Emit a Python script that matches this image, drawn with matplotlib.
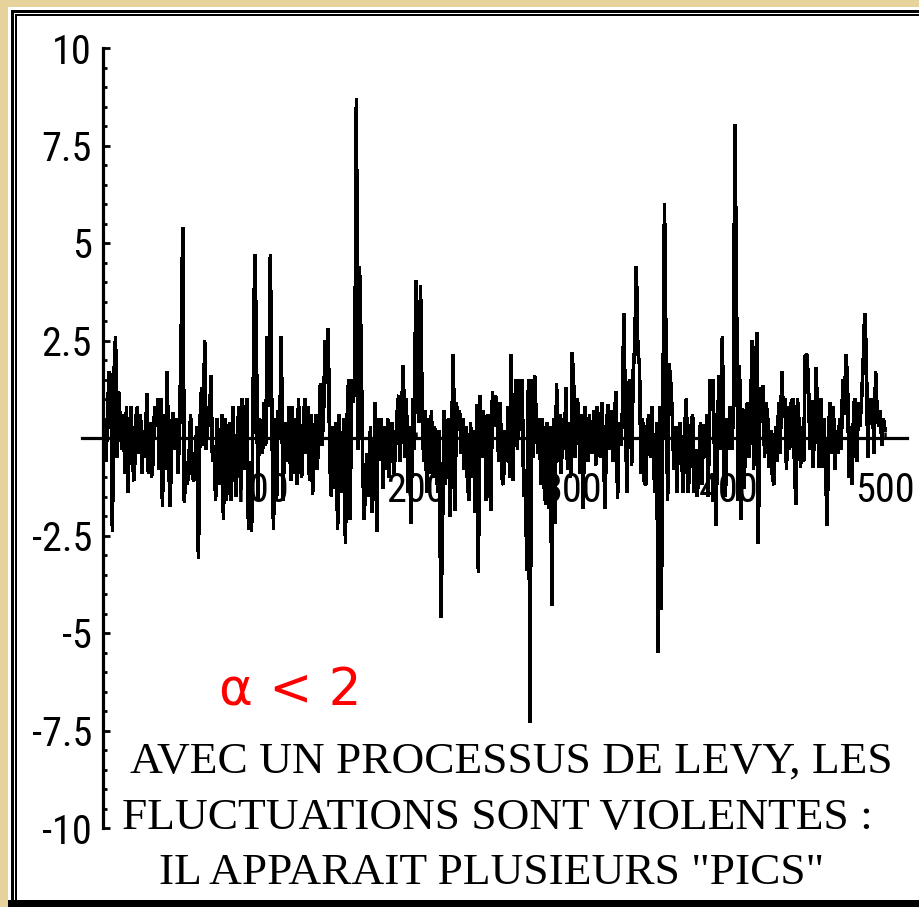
import matplotlib
matplotlib.use("Agg")
import matplotlib.pyplot as plt
from matplotlib import font_manager as fm
from matplotlib.patches import Rectangle
from matplotlib.ticker import FixedLocator, FixedFormatter, MultipleLocator

# ---------------- data ----------------
steps = list(range(1, 501))
levy_values = [
    0.3, -0.6, 0.8, 1.7, 1.5, -2.4, 1.6, 2.6, -0.5, 1.2, 0.4, -0.3, 0.6, -0.9, 0.8, -1.4, 0.3, 0.8, -0.7, -1.1,
    0.5, 0.8, -0.4, 0.6, -0.9, 0.2, -0.5, 1.15, -0.9, 0.4, -1.0, -0.6, 0.8, 0.3, 1.0, -0.8, 1.0, -1.75, 0.6, -0.8,
    1.7, -0.7, -1.75, 0.4, 0.65, -0.3, 0.5, -0.9, 0.3, 2.7, 5.4, -1.65, -0.6, -1.2, -0.5, 0.6, -0.9, -1.1, -0.4, 0.3,
    -3.1, 0.4, 1.3, -0.2, 2.5, -0.3, 0.8, 0.3, 1.6, -0.6, -0.2, -1.6, 0.5, -1.2, -0.4, 0.6, -2.1, 0.5, -1.6, 0.2,
    0.4, -1.6, 0.8, -0.5, -1.5, 0.3, 0.8, -1.4, 1.0, 0.5, -0.8, 1.0, -2.35, -0.6, -2.4, 1.2, 4.7, 2.8, -1.6, 0.5,
    0.3, -0.4, 0.9, -0.2, 2.6, 0.8, 4.7, 0.4, -2.35, 0.5, -1.6, 0.7, 0.2, 2.6, -1.6, -0.3, 0.4, -0.6, 0.8, -1.1,
    0.8, -0.9, 0.5, -1.2, 1.0, -0.6, -1.0, 0.3, 1.0, -0.4, 0.8, -1.1, 0.6, -1.45, -0.3, 0.6, -0.8, 0.2, 1.4, -0.2,
    0.6, 2.5, 1.4, 2.8, -0.6, -1.5, 0.3, -1.3, 0.4, -2.35, 0.6, -1.4, -0.5, 0.5, -2.7, 0.4, 1.5, -2.1, 1.5, 0.9,
    1.5, 8.7, -0.3, 4.4, 2.45, -0.6, -2.1, -0.9, -0.4, -1.5, 0.3, -1.9, -0.8, 0.9, -2.4, 0.5, -0.3, 0.5, -1.3, 0.3,
    -0.8, 0.5, -1.0, 0.2, 0.4, -0.9, -0.3, 0.6, 1.1, -0.6, 0.8, 1.85, -0.5, 1.0, -1.4, 0.3, -2.2, 1.0, -0.3, 4.05,
    1.0, 0.4, 3.9, 1.0, -0.6, 0.7, -1.4, 0.5, -0.9, 0.7, -1.0, 0.3, -0.5, -1.4, 0.2, -4.6, -2.6, 0.7, -1.2, 0.4,
    0.5, -2.0, 0.3, 2.15, -1.85, 0.9, 0.2, 0.7, -0.4, 0.5, -0.8, 0.3, -1.1, -1.6, 0.4, -1.0, 0.2, -1.9, 0.85, -3.45,
    1.1, -0.5, 0.7, 0.4, -1.6, 0.6, -0.9, -1.85, 1.2, 0.3, 1.1, 0.5, -0.6, 0.9, -1.0, -1.2, 0.2, -0.6, 0.8, -1.0,
    2.15, -1.1, 0.4, 1.5, -0.3, 1.5, 0.2, 1.5, -1.5, -0.8, -3.4, 1.5, -7.3, 1.5, -0.5, 1.6, 0.5, -0.4, 0.5, -1.2,
    0.5, -1.2, -1.7, 0.4, -1.8, 0.3, -4.3, 0.5, -2.2, 1.4, -0.6, 0.6, -0.9, 0.5, -0.3, 1.3, -0.8, 0.4, -1.0, 2.2,
    1.3, -0.5, 1.0, 0.8, -0.9, 0.6, -1.8, 0.8, 0.3, -0.6, 0.6, -0.4, 0.2, 0.7, -0.7, 0.8, 0.3, -0.5, 0.9, -0.3,
    -1.8, 0.4, 0.85, -0.3, 0.7, -0.6, 0.5, 1.2, -1.55, 0.4, -0.2, 0.5, 3.2, 0.6, -1.4, 1.4, 1.5, -0.7, 1.7, 2.35,
    4.4, 2.2, 1.9, -0.9, 0.5, -1.1, -1.2, 0.3, 0.6, -0.5, 0.8, -0.7, -1.4, 0.4, -5.5, 0.8, -4.4, 0.9, 6.0, 2.2,
    -1.6, 1.9, 1.4, 0.6, -0.8, 0.3, -1.4, 0.2, 0.4, -0.5, -1.4, 0.3, 1.0, -1.4, -0.9, 0.3, 0.6, -1.4, -0.3, -1.5,
    -0.6, 0.4, -1.2, 0.35, -0.5, 0.6, -1.5, 1.5, 0.7, 1.5, -0.4, -2.25, 0.5, 1.6, -0.3, 2.6, -0.8, -1.5, 0.5, -0.3,
    0.8, -0.3, 0.6, 8.05, 4.05, -1.6, 1.85, -2.1, 0.75, -1.3, 0.6, 0.9, -0.5, 0.4, 2.5, -0.8, 1.4, 2.7, -2.7, 1.3,
    0.4, 1.35, -0.5, 0.9, 0.5, -0.75, 0.2, -1.0, -1.2, 0.3, -0.6, 0.9, -0.4, 1.7, 0.6, 1.0, -0.8, 0.8, -0.3, 0.9,
    1.0, -0.5, -1.7, 1.0, 0.4, -0.75, 0.3, -0.6, 2.1, 2.15, 1.5, -0.3, 0.95, -0.75, 0.3, 1.8, 0.2, -0.75, 1.0, -0.75,
    0.5, -0.75, -2.25, 0.3, 0.9, -0.4, 0.8, -0.8, 0.2, -0.4, 0.5, -0.3, 1.5, 0.6, 2.15, 1.5, -1.0, 0.3, -1.2, 0.9,
    1.0, -0.6, 0.9, 0.3, 1.0, 1.85, 3.2, 2.2, -0.5, 1.0, 0.4, 1.0, -0.4, 1.7, 0.6, 0.3, 0.7, -0.2, 0.5, 0.2,
]

y_ticks = [-10, -7.5, -5, -2.5, 2.5, 5, 7.5, 10]
y_tick_labels = ["-10", "-7.5", "-5", "-2.5", "2.5", "5", "7.5", "10"]
x_ticks = [100, 200, 300, 400, 500]
x_tick_labels = ["100", "200", "300", "400", "500"]

alpha_label = "\u03b1 < 2"
caption_lines = [
    "AVEC UN PROCESSUS DE LEVY, LES",
    "FLUCTUATIONS SONT VIOLENTES :",
    "IL APPARAIT PLUSIEURS \"PICS\"",
]

# ---------------- fonts ----------------
names = {f.name for f in fm.fontManager.ttflist}


def pick(*cands):
    for c in cands:
        if c in names:
            return c
    return "DejaVu Sans"


tick_font = pick("Liberation Sans Narrow", "Roboto Condensed", "DejaVu Sans")
tick_stretch = "normal" if tick_font != "DejaVu Sans" else "condensed"
serif_font = pick("Liberation Serif", "DejaVu Serif")

# ---------------- figure ----------------
W, H = 919, 907
fig = plt.figure(figsize=(W / 100, H / 100), dpi=100)
fig.patch.set_facecolor("#E6D39B")


def fx(px):
    return px / W


def fy(py):
    return 1 - py / H


# white panel and double frame (drawn beneath the axes)
fig.patches.append(Rectangle((fx(8), fy(907)), fx(919 - 8), (907 - 7) / H,
                             transform=fig.transFigure, facecolor="white",
                             edgecolor="none", zorder=-3))
for (x0, y0, w, h) in [(11, 10, 919 - 11, 3), (11, 10, 3, 907 - 10),
                       (15, 14, 919 - 15, 2), (15, 14, 2, 907 - 14),
                       (8, 900, 919 - 8, 7)]:
    fig.patches.append(Rectangle((fx(x0), fy(y0 + h)), w / W, h / H,
                                 transform=fig.transFigure, facecolor="black",
                                 edgecolor="none", zorder=-2))

# axes: px 82..907 horizontally, py 48..828 vertically
ax = fig.add_axes([fx(82), fy(828), (907 - 82) / W, (828 - 48) / H])
ax.set_zorder(1)
ax.set_facecolor("none")
x_left = (82 - 103) / 1.564
x_right = (907 - 103) / 1.564
ax.set_xlim(x_left, x_right)
ax.set_ylim(-10, 10)

ax.plot(steps, levy_values, color="black", linewidth=1.9, antialiased=False,
        solid_joinstyle="miter", zorder=2)

for s in ("top", "right"):
    ax.spines[s].set_visible(False)
ax.spines["left"].set_position(("data", 0))
ax.spines["bottom"].set_position(("data", 0))
ax.spines["left"].set_linewidth(2.3)
ax.spines["bottom"].set_linewidth(2.3)

ax.yaxis.set_major_locator(FixedLocator(y_ticks))
ax.yaxis.set_major_formatter(FixedFormatter(y_tick_labels))
ax.yaxis.set_minor_locator(MultipleLocator(0.5))
ax.xaxis.set_major_locator(FixedLocator(x_ticks))
ax.xaxis.set_major_formatter(FixedFormatter(x_tick_labels))

ax.tick_params(axis="y", which="major", direction="in", length=5, width=2,
               pad=8, labelsize=29)
ax.tick_params(axis="y", which="minor", direction="in", length=3, width=2)
ax.tick_params(axis="x", which="major", direction="in", length=4, width=1.8,
               pad=24, labelsize=29)
for lab in ax.get_yticklabels() + ax.get_xticklabels():
    lab.set_fontfamily(tick_font)
    lab.set_fontstretch(tick_stretch)
    lab.set_color("black")

# red alpha label
fig.text(fx(290), fy(705), alpha_label, color="#FF0000", fontsize=37,
         family="DejaVu Sans", ha="center", va="baseline", zorder=3)

# caption
centers = [511, 497, 492]
baselines = [773, 829, 884]
for line, cx, by in zip(caption_lines, centers, baselines):
    fig.text(fx(cx), fy(by), line, color="black", fontsize=32.7,
             family=serif_font, ha="center", va="baseline", zorder=3)

fig.savefig("out.png", dpi=100, facecolor=fig.get_facecolor())
